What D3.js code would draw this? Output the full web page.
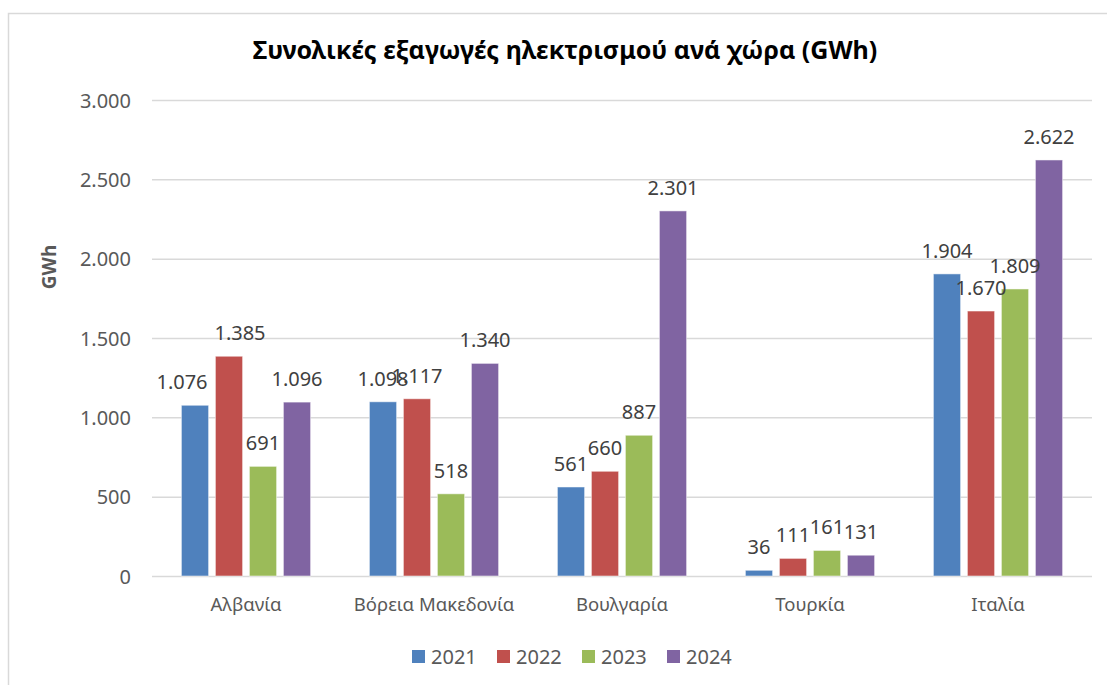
<!DOCTYPE html>
<html>
<head>
<meta charset="utf-8">
<script src="https://cdn.jsdelivr.net/npm/d3@7"></script>
<style>
	body { margin: 0; background: #fff; }
	text { font-family: "Noto Sans", "Open Sans", sans-serif; }
</style>
</head>
<body>
<div id="chart"></div>
<script>
// data
var countries = ['Αλβανία', 'Βόρεια Μακεδονία', 'Βουλγαρία', 'Τουρκία', 'Ιταλία'];
var years = ['2021', '2022', '2023', '2024'];
var values2021 = [1076, 1098, 561, 36, 1904];
var values2022 = [1385, 1117, 660, 111, 1670];
var values2023 = [691, 518, 887, 161, 1809];
var values2024 = [1096, 1340, 2301, 131, 2622];
var yTicks = [0, 500, 1000, 1500, 2000, 2500, 3000];
var colors = ['#4f81bd', '#c0504d', '#9bbb59', '#8064a2'];

var params = {
	width: 1107,
	height: 685,
	left: 152,
	right: 1092,
	top: 100,
	bottom: 576
};

// a couple of labels were dragged sideways in the original
var labelNudge = {'Αλβανία|2021': -13, 'Αλβανία|2022': 11};

// greek style number format: dot as thousands separator
var fmt = d3.formatLocale({decimal: ',', thousands: '.', grouping: [3], currency: ['', '€']}).format(',d');

function buildRows(){
	var series = [values2021, values2022, values2023, values2024];
	return countries.map(function(c, i){
		return {country: c, values: years.map(function(y, j){ return {country: c, year: y, value: series[j][i]}; })};
	});
}

function createChart(){
	var rows = buildRows();

	var svg = d3.select('#chart').append('svg')
		.attr('width', params.width)
		.attr('height', params.height);

	// chart frame (only left/top visible in the crop)
	svg.append('rect')
		.attr('x', 8.5).attr('y', 13.5)
		.attr('width', 1200).attr('height', 800)
		.attr('fill', 'none')
		.attr('stroke', '#d9d9d9')
		.attr('stroke-width', 1.5);

	var x0 = d3.scaleBand()
		.domain(countries)
		.range([params.left, params.right]);
	var groupW = 136;
	var x1 = d3.scaleBand()
		.domain(years)
		.range([(x0.bandwidth() - groupW) / 2, (x0.bandwidth() + groupW) / 2])
		.paddingInner(0.2)
		.paddingOuter(0.1);
	var y = d3.scaleLinear()
		.domain([0, 3000])
		.range([params.bottom, params.top]);
	var color = d3.scaleOrdinal().domain(years).range(colors);

	// gridlines + y labels
	var yAxis = d3.axisLeft(y)
		.tickValues(yTicks)
		.tickSize(-(params.right - params.left))
		.tickPadding(21)
		.tickFormat(fmt);
	var gy = svg.append('g')
		.attr('transform', 'translate(' + params.left + ',0)')
		.call(yAxis);
	gy.select('.domain').remove();
	gy.selectAll('.tick line').attr('stroke', '#d9d9d9').attr('stroke-width', 1.5);
	gy.selectAll('.tick text')
		.attr('fill', '#595959')
		.style('font-size', '20px')
		.attr('dy', '0.35em');

	// category axis labels
	var gx = svg.append('g')
		.attr('transform', 'translate(0,' + params.bottom + ')')
		.call(d3.axisBottom(x0).tickSize(0).tickPadding(0));
	gx.select('.domain').remove();
	gx.selectAll('.tick text')
		.attr('fill', '#595959')
		.attr('y', 35)
		.attr('dy', 0)
		.style('font-size', '18.5px');

	// bars
	var groups = svg.selectAll('.group')
		.data(rows)
		.enter()
		.append('g')
			.attr('class', 'group')
			.attr('transform', function(d){ return 'translate(' + x0(d.country) + ',0)'; });

	groups.selectAll('rect')
		.data(function(d){ return d.values; })
		.enter()
		.append('rect')
			.attr('x', function(d){ return x1(d.year); })
			.attr('y', function(d){ return y(d.value); })
			.attr('width', x1.bandwidth())
			.attr('height', function(d){ return y(0) - y(d.value); })
			.attr('fill', function(d){ return color(d.year); })
			.attr('stroke', '#ffffff')
			.attr('stroke-opacity', 0.5)
			.attr('stroke-width', 1);

	// data labels
	groups.selectAll('.lbl')
		.data(function(d){ return d.values; })
		.enter()
		.append('text')
			.attr('class', 'lbl')
			.attr('x', function(d){ return x1(d.year) + x1.bandwidth() / 2 + (labelNudge[d.country + '|' + d.year] || 0); })
			.attr('y', function(d){ return y(d.value) - 16; })
			.attr('text-anchor', 'middle')
			.attr('fill', '#404040')
			.style('font-size', '20px')
			.text(function(d){ return fmt(d.value); });

	// title
	svg.append('text')
		.attr('x', 565)
		.attr('y', 59)
		.attr('text-anchor', 'middle')
		.attr('fill', '#000')
		.style('font-size', '25px')
		.style('font-weight', 'bold')
		.text('Συνολικές εξαγωγές ηλεκτρισμού ανά χώρα (GWh)');

	// y axis title
	svg.append('text')
		.attr('transform', 'translate(56,267) rotate(-90)')
		.attr('text-anchor', 'middle')
		.attr('fill', '#595959')
		.style('font-size', '19px')
		.style('font-weight', 'bold')
		.text('GWh');

	// legend
	var legend = svg.selectAll('.legend')
		.data(years)
		.enter()
		.append('g')
			.attr('class', 'legend')
			.attr('transform', function(d, i){ return 'translate(' + (412 + i * 85) + ',650)'; });
	legend.append('rect')
		.attr('width', 13).attr('height', 13)
		.attr('fill', function(d){ return color(d); });
	legend.append('text')
		.attr('x', 19)
		.attr('y', 14)
		.attr('fill', '#595959')
		.style('font-size', '20px')
		.text(function(d){ return d; });
}

createChart();
</script>
</body>
</html>
